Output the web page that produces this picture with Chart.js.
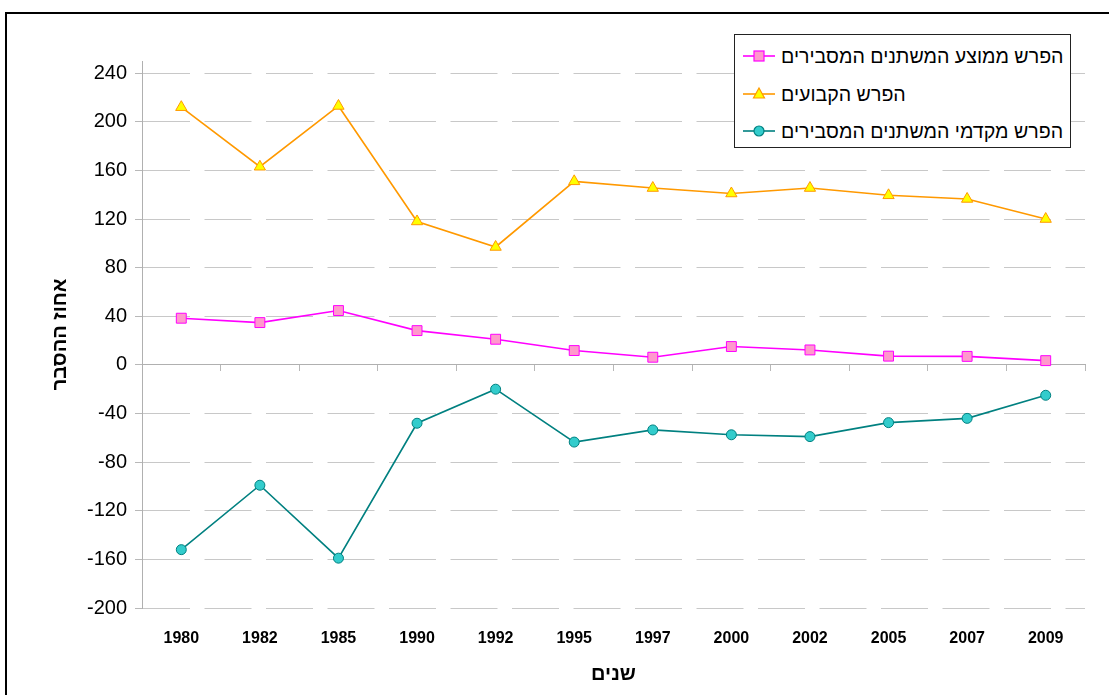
<!DOCTYPE html>
<html>
<head>
<meta charset="utf-8">
<script src="https://cdn.jsdelivr.net/npm/chart.js@4.4.1/dist/chart.umd.min.js"></script>
<style>
  html, body { margin: 0; padding: 0; background: #fff; overflow: hidden; }
  #wrap { position: relative; width: 1109px; height: 695px; }
  #c { position: absolute; left: 0; top: 0; }
  #frame { position: absolute; left: 5px; top: 12px; width: 1200px; height: 800px; border-left: 2px solid #000; border-top: 2px solid #000; box-sizing: border-box; pointer-events: none; }
  #legend { position: absolute; left: 734px; top: 34px; width: 337px; height: 114px; box-sizing: border-box; border: 1px solid #222; background: #fff; font-family: "Liberation Sans", Arial, sans-serif; font-size: 19.6px; color: #000; }
  .row { position: absolute; left: 8px; height: 24px; display: flex; align-items: center; white-space: nowrap; }
  .row svg { display: block; margin-right: 6px; }
</style>
</head>
<body>
<div id="wrap">
  <canvas id="c" width="1109" height="695"></canvas>
  <div id="frame"></div>
  <div id="legend"></div>
</div>
<script>
// ---- data ----
const years = ['1980','1982','1985','1990','1992','1995','1997','2000','2002','2005','2007','2009'];
const avgDiff   = [38.4, 34.8, 44.7, 28.2, 21.1, 11.8, 6.3, 15.1, 12.3, 7.2, 7.0, 3.5];
const constDiff = [212, 163, 213, 118, 97, 151, 145.5, 141, 145.5, 139.5, 136.5, 120];
const coefDiff  = [-152, -99, -159, -48, -20, -63.5, -53.5, -57.5, -59, -47.5, -44, -25];
const yTicks = [-200, -160, -120, -80, -40, 0, 40, 80, 120, 160, 200, 240];
const seriesNames = ['הפרש ממוצע המשתנים המסבירים', 'הפרש הקבועים', 'הפרש מקדמי המשתנים המסבירים'];
const yTitle = 'אחוז ההסבר';
const xTitle = 'שנים';

const FONT = '"Liberation Sans", Arial, sans-serif';

const styles = [
  { line: '#FF00FF', fill: '#FF99CC', point: 'rect', radius: 7 },
  { line: '#FF9900', fill: '#FFFF00', point: 'triangle', radius: 6.5 },
  { line: '#008080', fill: '#33CCCC', point: 'circle', radius: 5 }
];
const values = [avgDiff, constDiff, coefDiff];

const datasets = values.map((v, i) => ({
  label: seriesNames[i],
  data: v,
  borderColor: styles[i].line,
  backgroundColor: styles[i].fill,
  borderWidth: 1.6,
  pointStyle: styles[i].point,
  pointRadius: styles[i].radius,
  pointBackgroundColor: styles[i].fill,
  pointBorderColor: styles[i].line,
  pointBorderWidth: 1,
  tension: 0,
  xAxisID: 'x'
}));

new Chart(document.getElementById('c'), {
  type: 'line',
  data: { labels: years, datasets },
  options: {
    responsive: false,
    animation: false,
    events: [],
    layout: { padding: { left: 40, right: 24, top: 61, bottom: 0 } },
    plugins: { legend: { display: false }, tooltip: { enabled: false } },
    scales: {
      x: {
        type: 'category',
        position: 'bottom',
        offset: true,
        grid: { display: false, drawTicks: false },
        border: { display: false },
        ticks: { color: '#000', font: { family: FONT, size: 16, weight: 'bold' }, padding: 21, maxRotation: 0, autoSkip: false },
        title: { display: true, text: xTitle, color: '#000', font: { family: FONT, size: 20, weight: 'bold' }, padding: { top: 0, bottom: 9 } },
        afterFit: (s) => { s.height = 87; }
      },
      x0: {
        type: 'category',
        labels: years,
        position: { y: 0 },
        offset: true,
        grid: { drawOnChartArea: false, offset: true, drawTicks: true, tickLength: 6, color: '#b8b8b8' },
        border: { display: true, color: '#b0b0b0', width: 1 },
        ticks: { display: false }
      },
      y: {
        type: 'linear',
        position: 'left',
        min: -200,
        max: 250,
        afterBuildTicks: (s) => { s.ticks = yTicks.map(v => ({ value: v })); },
        grid: { color: '#c8c8c8', tickLength: 7, tickColor: '#b8b8b8', tickBorderDash: [] },
        border: { display: true, color: '#b0b0b0', width: 1, dash: [47, 14.5] },
        ticks: { color: '#000', font: { family: FONT, size: 20 }, padding: 8 },
        title: { display: true, text: yTitle, color: '#000', font: { family: FONT, size: 20, weight: 'bold' }, padding: { top: 8, bottom: 0 } },
        afterFit: (s) => { s.width = 102; }
      }
    }
  }
});

// ---- HTML legend ----
function markerSVG(st) {
  let m = '';
  if (st.point === 'rect') m = `<rect x="11" y="6" width="10" height="10" fill="${st.fill}" stroke="${st.line}" stroke-width="1.2"/>`;
  else if (st.point === 'triangle') m = `<polygon points="16,5 21.5,15 10.5,15" fill="${st.fill}" stroke="${st.line}" stroke-width="1.2"/>`;
  else m = `<circle cx="16" cy="11" r="5" fill="${st.fill}" stroke="${st.line}" stroke-width="1.2"/>`;
  return `<svg width="32" height="22" viewBox="0 0 32 22"><line x1="0" y1="11" x2="32" y2="11" stroke="${st.line}" stroke-width="1.6"/>${m}</svg>`;
}
const lg = document.getElementById('legend');
const rowTops = [9, 47, 84];
seriesNames.forEach((n, i) => {
  const r = document.createElement('div');
  r.className = 'row';
  r.style.top = rowTops[i] + 'px';
  r.innerHTML = markerSVG(styles[i]) + `<span dir="rtl">${n}</span>`;
  lg.appendChild(r);
});
</script>
</body>
</html>
